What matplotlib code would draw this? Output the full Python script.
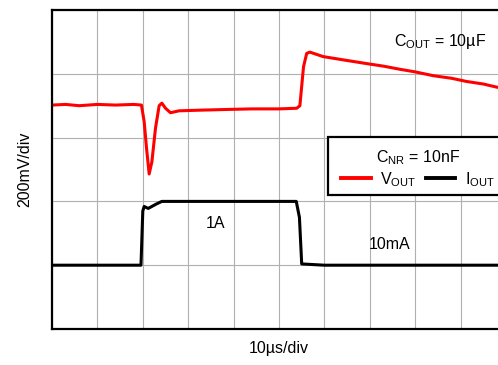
import numpy as np
import matplotlib
matplotlib.use('Agg')
import matplotlib.pyplot as plt
from matplotlib.lines import Line2D
from matplotlib.patches import Rectangle

plt.rcParams['font.family'] = ['Liberation Sans', 'DejaVu Sans']
plt.rcParams['mathtext.fontset'] = 'custom'
plt.rcParams['mathtext.rm'] = 'Liberation Sans'
plt.rcParams['mathtext.it'] = 'Liberation Sans'

# ---------------------------------------------------------------------------
# Scope traces, in divisions (x: 10us/div, y: 200mV/div)
# ---------------------------------------------------------------------------
vout_t = [0.0, 0.3, 0.6, 1.0, 1.4, 1.8, 1.97, 2.03, 2.08, 2.14, 2.2, 2.28,
          2.36, 2.42, 2.5, 2.61, 2.8, 3.26, 3.8, 4.4, 5.0, 5.39, 5.46, 5.54,
          5.61, 5.68, 5.97, 6.4, 6.93, 7.3, 7.67, 8.0, 8.4, 8.8, 9.13, 9.5,
          9.8, 10.0]
vout_v = [3.51, 3.52, 3.50, 3.52, 3.51, 3.52, 3.51, 3.25, 2.85, 2.43, 2.62,
          3.15, 3.50, 3.54, 3.46, 3.39, 3.42, 3.43, 3.44, 3.45, 3.45, 3.46,
          3.50, 4.11, 4.32, 4.34, 4.27, 4.22, 4.16, 4.12, 4.07, 4.03, 3.97,
          3.93, 3.88, 3.84, 3.79, 3.77]

iout_t = [0.0, 1.96, 2.0, 2.03, 2.12, 2.3, 2.42, 3.0, 4.0, 5.0, 5.38, 5.45,
          5.5, 5.75, 6.0, 8.0, 10.0]
iout_v = [1.0, 1.0, 1.85, 1.92, 1.89, 1.96, 2.0, 2.0, 2.0, 2.0, 2.0, 1.75,
          1.02, 1.01, 1.0, 1.0, 1.0]

fig = plt.figure(figsize=(4.98, 3.65), dpi=100)
ax = fig.add_axes([52 / 498, 36 / 365, 454 / 498, 319 / 365])

ax.plot(vout_t, vout_v, color='#ff0000', lw=2.2, solid_joinstyle='round')
ax.plot(iout_t, iout_v, color='black', lw=2.2, solid_joinstyle='round')

ax.set_xlim(0, 10)
ax.set_ylim(0, 5)
ax.set_xticks(np.arange(0, 11, 1))
ax.set_yticks(np.arange(0, 6, 1))
ax.tick_params(length=0, labelbottom=False, labelleft=False)
ax.grid(color='#b0b0b0', lw=0.8)
for s in ax.spines.values():
    s.set_linewidth(1.6)

ax.set_xlabel('10µs/div', fontsize=11.5, labelpad=9)
ax.set_ylabel('200mV/div', fontsize=11.5, labelpad=14)

ax.text(3.61, 1.65, '1A', fontsize=11.5, ha='center', va='center')
ax.text(7.44, 1.32, '10mA', fontsize=11.5, ha='center', va='center')
ax.text(8.55, 4.5, r'C$_{\mathrm{OUT}}$ = 10µF', fontsize=11.5,
        ha='center', va='center')

# legend box runs off the right edge of the screenshot
box = Rectangle((0.608, 0.42), 0.5, 0.182, transform=ax.transAxes,
                facecolor='white', edgecolor='black', lw=1.6,
                clip_on=False, zorder=4.5)
ax.add_patch(box)

handles = [Line2D([], [], color='#ff0000', lw=2.8),
           Line2D([], [], color='black', lw=2.8)]
leg = ax.legend(handles, [r'V$_{\mathrm{OUT}}$', r'I$_{\mathrm{OUT}}$'],
                title=r'C$_{\mathrm{NR}}$ = 10nF', ncol=2, fontsize=11.5,
                title_fontsize=11.5, loc='upper left',
                bbox_to_anchor=(0.619, 0.592), borderaxespad=0,
                frameon=False, handlelength=1.85, handletextpad=0.6,
                columnspacing=0.6, borderpad=0.5, labelspacing=0.2)
leg.set_zorder(5)

fig.savefig('out.png', dpi=100)
